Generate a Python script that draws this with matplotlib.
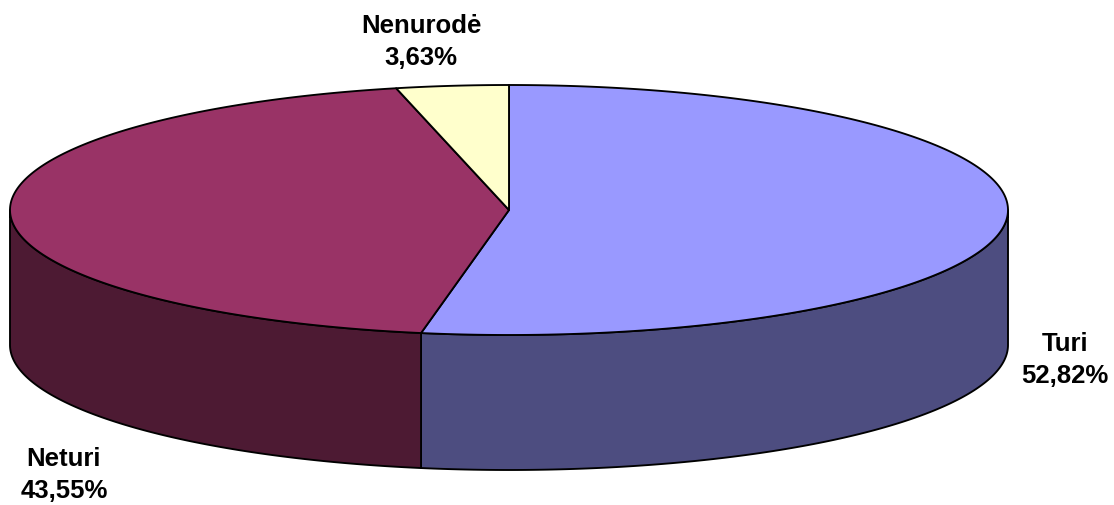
#!/usr/bin/env python3
"""Flat 3D-look pie chart, drawn as ellipse wedges in pixel coordinates"""

import matplotlib
matplotlib.use('Agg')
import matplotlib.pyplot as plt
import numpy as np

labels = ['Turi', 'Neturi', 'Nenurodė']
values = [52.82, 43.55, 3.63]
value_labels = ['52,82%', '43,55%', '3,63%']
top_colors = ['#9999FF', '#993366', '#FFFFCC']
side_colors = ['#4D4D80', '#4D1A33', '#808066']
label_pos = [(1065, 360), (64, 475), (421, 42)]

CX, CY = 509, 210
RX, RY = 499, 125
DEPTH = 135
LW = 1.35


def rim(start, end):
    """Points on the top ellipse, angles clockwise from 12 o'clock"""
    n = max(int(abs(end - start)) * 2, 2)
    t = np.radians(np.linspace(start, end, n))
    return CX + RX * np.sin(t), CY - RY * np.cos(t)


fig = plt.figure(figsize=(11.14, 5.05), dpi=100)
ax = fig.add_axes([0, 0, 1, 1])
ax.set_xlim(0, 1114)
ax.set_ylim(505, 0)
ax.axis('off')

edges = np.concatenate([[0], np.cumsum(values) / sum(values) * 360])

# side wall first, only the front half of the ellipse is visible
for i in range(len(values)):
    start = max(edges[i], 90)
    end = min(edges[i + 1], 270)
    if end <= start:
        continue
    xs, ys = rim(start, end)
    ax.fill(np.r_[xs, xs[::-1]], np.r_[ys, ys[::-1] + DEPTH],
            facecolor=side_colors[i], edgecolor='black', linewidth=LW,
            joinstyle='round')

# top wedges
for i in range(len(values)):
    xs, ys = rim(edges[i], edges[i + 1])
    ax.fill(np.r_[CX, xs], np.r_[CY, ys],
            facecolor=top_colors[i], edgecolor='black', linewidth=LW,
            joinstyle='round')

for label, val, (x, y) in zip(labels, value_labels, label_pos):
    ax.text(x, y, f'{label}\n{val}', ha='center', va='center',
            family='Liberation Sans', fontweight='bold', fontsize=18.5,
            linespacing=1.42, color='black')

fig.savefig('out.png', dpi=100)
plt.close('all')
